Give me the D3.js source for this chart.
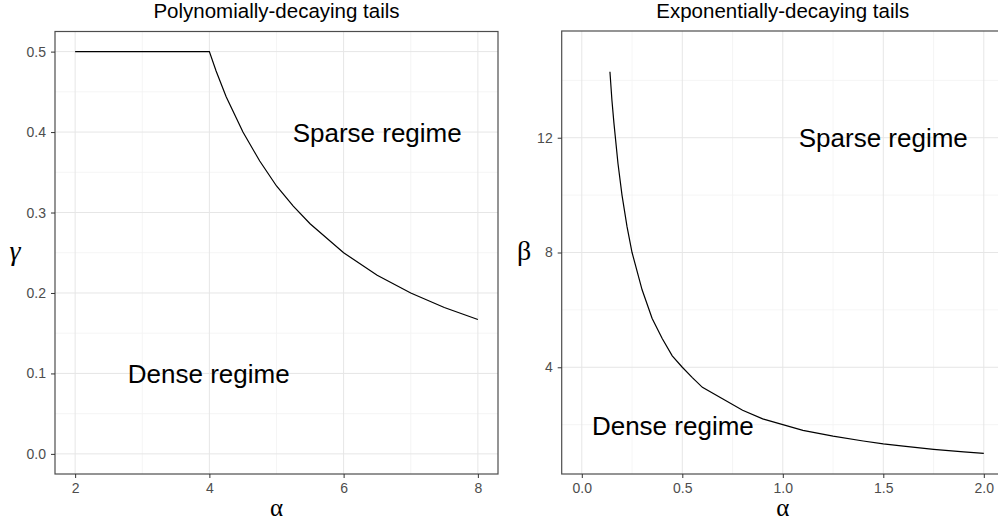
<!DOCTYPE html>
<html>
<head>
<meta charset="utf-8">
<script src="https://cdn.jsdelivr.net/npm/d3@7"></script>
<style>
  body { margin: 0; background: #fff; }
  svg { display: block; }
</style>
</head>
<body>
<div id="chart"></div>
<script>
// ---- data ----
// left panel: polynomially-decaying tails
var polyAlpha = [2, 2.5, 3, 3.5, 4, 4.1, 4.25, 4.5, 4.75, 5, 5.25, 5.5, 6, 6.5, 7, 7.5, 8];
var polyGamma = [0.5, 0.5, 0.5, 0.5, 0.5, 0.476, 0.444, 0.4, 0.364, 0.333, 0.308, 0.286, 0.25, 0.222, 0.2, 0.182, 0.167];
var polyXTicks = [2, 4, 6, 8];
var polyYTicks = [0.0, 0.1, 0.2, 0.3, 0.4, 0.5];

// right panel: exponentially-decaying tails
var expAlpha = [0.14, 0.15, 0.16, 0.18, 0.2, 0.225, 0.25, 0.3, 0.35, 0.4, 0.45, 0.5, 0.55, 0.6, 0.7, 0.8, 0.9, 1.0, 1.1, 1.25, 1.4, 1.5, 1.6, 1.75, 1.9, 2.0];
var expBeta  = [14.3, 13.3, 12.5, 11.1, 10, 8.9, 8, 6.7, 5.7, 5, 4.4, 4, 3.64, 3.3, 2.9, 2.5, 2.2, 2.0, 1.8, 1.6, 1.43, 1.33, 1.25, 1.14, 1.05, 1.0];
var expXTicks = [0.0, 0.5, 1.0, 1.5, 2.0];
var expYTicks = [4, 8, 12];

var W = 998, H = 523;
var svg = d3.select("#chart").append("svg")
    .attr("width", W).attr("height", H);

function panel(opt) {
    var x = d3.scaleLinear().domain(opt.xDomain).range([opt.left, opt.right]);
    var y = d3.scaleLinear().domain(opt.yDomain).range([opt.bottom, opt.top]);
    var g = svg.append("g");

    // minor grid
    opt.xMinor.forEach(function (v) {
        g.append("line").attr("x1", x(v)).attr("x2", x(v))
            .attr("y1", opt.top).attr("y2", opt.bottom)
            .attr("stroke", "#f2f2f2").attr("stroke-width", 0.8);
    });
    opt.yMinor.forEach(function (v) {
        g.append("line").attr("y1", y(v)).attr("y2", y(v))
            .attr("x1", opt.left).attr("x2", opt.right)
            .attr("stroke", "#f2f2f2").attr("stroke-width", 0.8);
    });
    // major grid
    opt.xTicks.forEach(function (v) {
        g.append("line").attr("x1", x(v)).attr("x2", x(v))
            .attr("y1", opt.top).attr("y2", opt.bottom)
            .attr("stroke", "#e6e6e6").attr("stroke-width", 1);
    });
    opt.yTicks.forEach(function (v) {
        g.append("line").attr("y1", y(v)).attr("y2", y(v))
            .attr("x1", opt.left).attr("x2", opt.right)
            .attr("stroke", "#e6e6e6").attr("stroke-width", 1);
    });

    // the curve
    var pts = opt.xs.map(function (v, i) { return [v, opt.ys[i]]; });
    g.append("path")
        .datum(pts)
        .attr("fill", "none")
        .attr("stroke", "#000")
        .attr("stroke-width", 1.2)
        .attr("d", d3.line().x(function (d) { return x(d[0]); }).y(function (d) { return y(d[1]); }));

    // annotations
    opt.labels.forEach(function (l) {
        g.append("text")
            .attr("x", x(l.x)).attr("y", y(l.y))
            .attr("text-anchor", "middle")
            .style("font-family", "Liberation Sans, Arial, sans-serif")
            .style("font-size", "26px")
            .attr("fill", "#000")
            .text(l.text);
    });

    // panel border
    g.append("rect")
        .attr("x", opt.left).attr("y", opt.top)
        .attr("width", opt.right - opt.left).attr("height", opt.bottom - opt.top)
        .attr("fill", "none").attr("stroke", "#4d4d4d").attr("stroke-width", 1.2);

    // axes
    var ax = g.append("g")
        .attr("transform", "translate(0," + opt.bottom + ")")
        .call(d3.axisBottom(x).tickValues(opt.xTicks).tickFormat(opt.xFmt).tickSizeOuter(0).tickSize(4).tickPadding(5));
    var ay = g.append("g")
        .attr("transform", "translate(" + opt.left + ",0)")
        .call(d3.axisLeft(y).tickValues(opt.yTicks).tickFormat(opt.yFmt).tickSizeOuter(0).tickSize(4).tickPadding(5));
    [ax, ay].forEach(function (a) {
        a.select(".domain").remove();
        a.selectAll("line").attr("stroke", "#333").attr("stroke-width", 1);
        a.selectAll("text")
            .attr("fill", "#4d4d4d")
            .style("font-family", "Liberation Sans, Arial, sans-serif")
            .style("font-size", "14px");
    });

    // title
    g.append("text")
        .attr("x", (opt.left + opt.right) / 2).attr("y", 18)
        .attr("text-anchor", "middle")
        .style("font-family", "Liberation Sans, Arial, sans-serif")
        .style("font-size", "20.5px")
        .attr("fill", "#000")
        .text(opt.title);

    // x axis title
    g.append("text")
        .attr("x", (opt.left + opt.right) / 2).attr("y", 516)
        .attr("text-anchor", "middle")
        .style("font-family", "Liberation Serif, serif")
        .style("font-size", "25px")
        .attr("fill", "#000")
        .text("α");

    // y axis title
    g.append("text")
        .attr("x", opt.yLabelX).attr("y", (opt.top + opt.bottom) / 2 + 7)
        .attr("text-anchor", "middle")
        .style("font-family", "Liberation Serif, serif")
        .style("font-style", opt.yLabelItalic ? "italic" : "normal")
        .style("font-size", "28px")
        .attr("fill", "#000")
        .text(opt.yLabel);
}

panel({
    left: 55, right: 498, top: 31.5, bottom: 474,
    xDomain: [1.7, 8.3], yDomain: [-0.025, 0.525],
    xTicks: polyXTicks, yTicks: polyYTicks,
    xMinor: [3, 5, 7], yMinor: [0.05, 0.15, 0.25, 0.35, 0.45],
    xFmt: d3.format("d"), yFmt: d3.format(".1f"),
    xs: polyAlpha, ys: polyGamma,
    labels: [
        {x: 6.5, y: 0.388, text: "Sparse regime"},
        {x: 3.99, y: 0.088, text: "Dense regime"}
    ],
    title: "Polynomially-decaying tails",
    yLabel: "γ", yLabelX: 15, yLabelItalic: true
});

panel({
    left: 561.7, right: 1003.9, top: 31, bottom: 474,
    xDomain: [-0.1, 2.1], yDomain: [0.28, 15.72],
    xTicks: expXTicks, yTicks: expYTicks,
    xMinor: [0.25, 0.75, 1.25, 1.75], yMinor: [2, 6, 10, 14],
    xFmt: d3.format(".1f"), yFmt: d3.format("d"),
    xs: expAlpha, ys: expBeta,
    labels: [
        {x: 1.5, y: 11.68, text: "Sparse regime"},
        {x: 0.453, y: 1.65, text: "Dense regime"}
    ],
    title: "Exponentially-decaying tails",
    yLabel: "β", yLabelX: 524, yLabelItalic: false
});
</script>
</body>
</html>
